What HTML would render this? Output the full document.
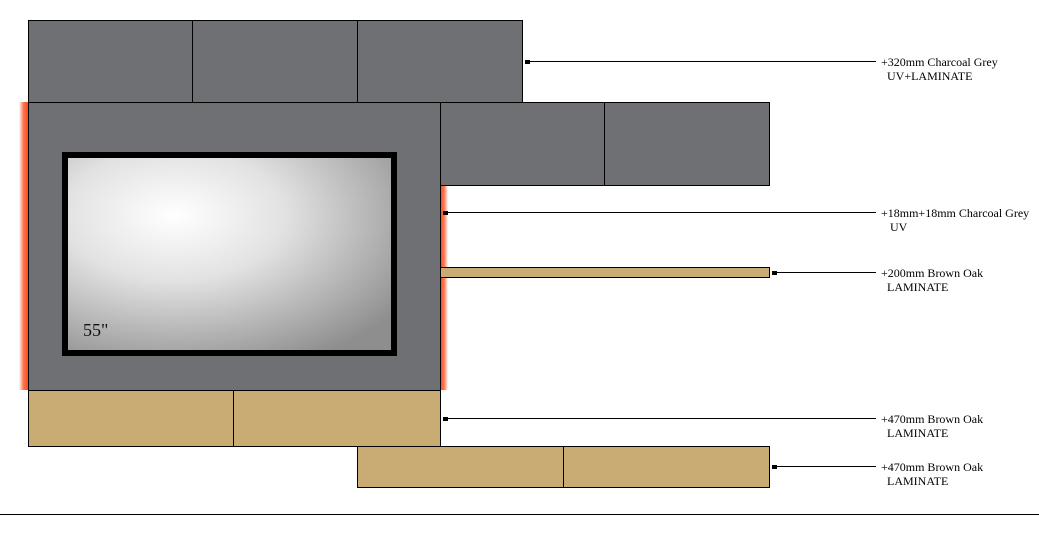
<!DOCTYPE html>
<html><head><meta charset="utf-8"><style>
html,body{margin:0;padding:0;background:#fff;}
svg{display:block}
text{font-family:"Liberation Serif",serif;font-size:12px;fill:#000}
</style></head><body>
<svg width="1039" height="533" viewBox="0 0 1039 533" xmlns="http://www.w3.org/2000/svg">
<defs>
<radialGradient id="tv" cx="0.33" cy="0.3" r="0.85">
<stop offset="0" stop-color="#ffffff"/><stop offset="0.4" stop-color="#e2e2e2"/><stop offset="1" stop-color="#8e8e8e"/>
</radialGradient>
<linearGradient id="gl" x1="0" x2="1"><stop offset="0" stop-color="#ff4a1a" stop-opacity="0"/><stop offset="0.5" stop-color="#ff5020" stop-opacity="0.8"/><stop offset="1" stop-color="#ff4a1a"/></linearGradient>
<linearGradient id="gr" x1="0" x2="1"><stop offset="0" stop-color="#ff4a1a"/><stop offset="0.5" stop-color="#ff5020" stop-opacity="0.8"/><stop offset="1" stop-color="#ff4a1a" stop-opacity="0"/></linearGradient>
</defs>
<rect x="19" y="102" width="9" height="288" fill="url(#gl)"/>
<rect x="440" y="185" width="8" height="205" fill="url(#gr)"/>
<g stroke="#000" stroke-width="1">
<rect x="28.5" y="20.5" width="494" height="82" fill="#6e7073"/>
<line x1="192.5" y1="20" x2="192.5" y2="102"/>
<line x1="357.5" y1="20" x2="357.5" y2="102"/>
<rect x="440.5" y="102.5" width="329" height="83" fill="#6e7073"/>
<line x1="604.5" y1="102" x2="604.5" y2="185"/>
<rect x="28.5" y="102.5" width="412" height="288" fill="#6e7073"/>
<rect x="440.5" y="267.5" width="329" height="10" fill="#c9ac74"/>
<rect x="28.5" y="390.5" width="412" height="56" fill="#c9ac74"/>
<line x1="233.5" y1="390" x2="233.5" y2="446"/>
<rect x="357.5" y="446.5" width="412" height="41" fill="#c9ac74"/>
<line x1="563.5" y1="446" x2="563.5" y2="487"/>
</g>
<rect x="62" y="152" width="335" height="204" fill="#000"/>
<rect x="68" y="158" width="323" height="192" fill="url(#tv)"/>
<text x="83" y="336" style="font-size:18px;fill:#111">55"</text>
<g stroke="#000" stroke-width="1">
<line x1="525" y1="61.5" x2="876" y2="61.5"/>
<line x1="443" y1="212.5" x2="876" y2="212.5"/>
<line x1="772" y1="272.5" x2="876" y2="272.5"/>
<line x1="443" y1="418.5" x2="876" y2="418.5"/>
<line x1="772" y1="466.5" x2="876" y2="466.5"/>
<line x1="0" y1="514.5" x2="1039" y2="514.5"/>
</g>
<g fill="#000">
<rect x="525" y="60" width="5" height="4"/>
<rect x="443" y="211" width="5" height="4"/>
<rect x="772" y="271" width="5" height="4"/>
<rect x="443" y="417" width="5" height="4"/>
<rect x="772" y="465" width="5" height="4"/>
</g>
<text x="881" y="66">+320mm Charcoal Grey</text>
<text x="887" y="80">UV+LAMINATE</text>
<text x="881" y="217">+18mm+18mm Charcoal Grey</text>
<text x="890" y="231">UV</text>
<text x="881" y="277">+200mm Brown Oak</text>
<text x="887" y="291">LAMINATE</text>
<text x="881" y="423">+470mm Brown Oak</text>
<text x="887" y="437">LAMINATE</text>
<text x="881" y="471">+470mm Brown Oak</text>
<text x="887" y="485">LAMINATE</text>
</svg>
</body></html>
